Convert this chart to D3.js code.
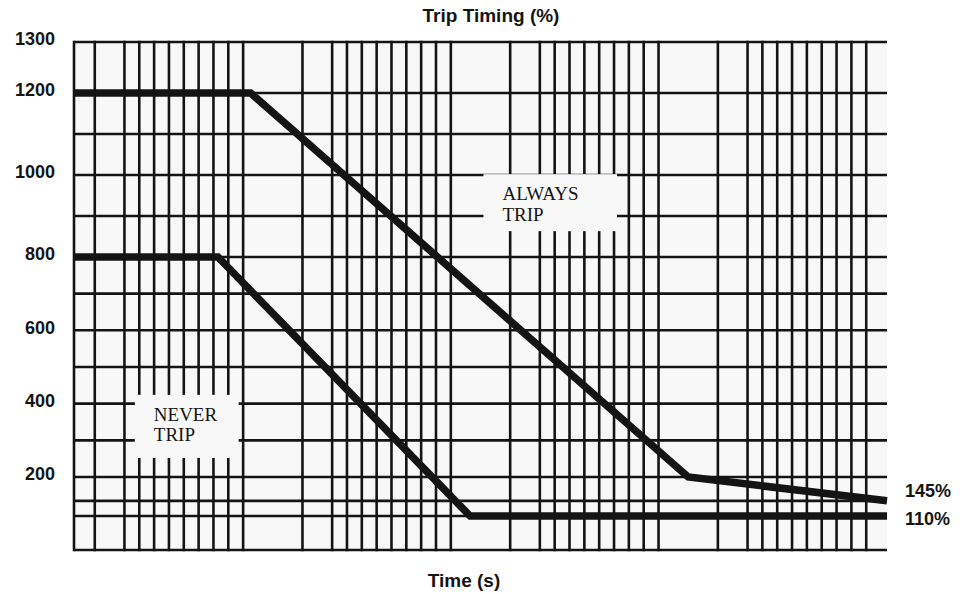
<!DOCTYPE html>
<html>
<head>
<meta charset="utf-8">
<style>
  body { margin: 0; background: #fff; }
  svg { display: block; }
</style>
<script src="https://cdn.jsdelivr.net/npm/d3@7"></script>
</head>
<body>
<div id="chart"></div>
<script>
// time axis is drawn in chart divisions, the original prints no time values
var timeDomain = [-1.4, 53.4];
var cycleStarts = [0, 14, 28, 42];
var cycleSteps = [0, 2, 3, 4, 5, 6, 7, 8, 9, 10];

var pctGrid = [1300, 1200, 1100, 1000, 900, 800, 700, 600, 500, 400, 300, 200, 145, 110, 0];
var pctLabels = [1300, 1200, 1000, 800, 600, 400, 200];

var alwaysTime = [-1.4, 10.5, 40.0, 53.4];
var alwaysPct = [1200, 1200, 200, 145];
var neverTime = [-1.4, 8.3, 25.3, 53.4];
var neverPct = [800, 800, 110, 110];

var endLabels = ['145%', '110%'];
var endValues = [145, 110];

var zoneNames = [['ALWAYS', 'TRIP'], ['NEVER', 'TRIP']];
var zoneTime = [[26.2, 35.2], [2.7, 9.7]];
var zonePct = [[1002, 863], [424, 252]];

(function(){

  var width = 960;
  var height = 594;
  var margin = { top: 42, right: 73, bottom: 44, left: 74 };
  var w = width - margin.left - margin.right;
  var h = height - margin.top - margin.bottom;
  var ink = '#141414';
  var sans = '"Liberation Sans", Arial, sans-serif';
  var serif = '"Liberation Serif", "Times New Roman", serif';

  var x = d3.scaleLinear().domain(timeDomain).range([0, w]);

  // the printed percent axis is not evenly spaced
  var y = d3.scaleLinear()
    .domain([0, 110, 200, 800, 1200, 1300])
    .range([h, h * 0.9331, h * 0.8563, h * 0.4232, h * 0.1004, 0]);

  var svg = d3.select('#chart')
    .append('svg')
    .attr('width', width)
    .attr('height', height);

  var g = svg.append('g')
    .attr('transform', 'translate(' + margin.left + ',' + margin.top + ')');

  g.append('rect')
    .attr('width', w)
    .attr('height', h)
    .attr('fill', '#f8f8f8');

  // horizontal grid
  g.selectAll('line.h')
    .data(pctGrid)
    .enter()
    .append('line')
    .attr('class', 'h')
    .attr('x1', 0)
    .attr('x2', w)
    .attr('y1', function(d) { return y(d); })
    .attr('y2', function(d) { return y(d); })
    .attr('stroke', ink)
    .attr('stroke-width', 2.6);

  // vertical grid, one block of lines per cycle
  var timeGrid = [timeDomain[0]];
  cycleStarts.forEach(function(c) {
    cycleSteps.forEach(function(s) { timeGrid.push(c + s); });
  });

  g.selectAll('line.v')
    .data(timeGrid)
    .enter()
    .append('line')
    .attr('class', 'v')
    .attr('x1', function(d) { return x(d); })
    .attr('x2', function(d) { return x(d); })
    .attr('y1', -1.3)
    .attr('y2', h + 1.3)
    .attr('stroke', ink)
    .attr('stroke-width', 2.6);

  // zone label boxes sit over the grid
  var zones = g.selectAll('g.zone')
    .data(zoneNames)
    .enter()
    .append('g')
    .attr('class', 'zone');

  zones.append('rect')
    .attr('x', function(d, i) { return x(zoneTime[i][0]); })
    .attr('y', function(d, i) { return y(zonePct[i][0]); })
    .attr('width', function(d, i) { return x(zoneTime[i][1]) - x(zoneTime[i][0]); })
    .attr('height', function(d, i) { return y(zonePct[i][1]) - y(zonePct[i][0]); })
    .attr('fill', '#f8f8f8');

  zones.each(function(d, i) {
    var bx = x(zoneTime[i][0]);
    var by = y(zonePct[i][0]);
    d3.select(this).selectAll('text')
      .data(d)
      .enter()
      .append('text')
      .text(function(t) { return t; })
      .attr('x', bx + 19)
      .attr('y', function(t, j) { return by + 26 + j * 20.5; })
      .attr('fill', ink)
      .style('font-family', serif)
      .style('font-size', '19px');
  });

  // trip curves
  var line = d3.line()
    .x(function(d) { return x(d[0]); })
    .y(function(d) { return y(d[1]); });

  var curves = [d3.zip(alwaysTime, alwaysPct), d3.zip(neverTime, neverPct)];

  g.selectAll('path.curve')
    .data(curves)
    .enter()
    .append('path')
    .attr('class', 'curve')
    .attr('d', line)
    .attr('fill', 'none')
    .attr('stroke', ink)
    .attr('stroke-width', 7.5)
    .attr('stroke-linejoin', 'miter');

  // percent labels
  g.selectAll('text.ylab')
    .data(pctLabels)
    .enter()
    .append('text')
    .attr('class', 'ylab')
    .text(function(d) { return d; })
    .attr('x', -19)
    .attr('y', function(d) { return y(d) - 3; })
    .attr('dy', '0.35em')
    .attr('text-anchor', 'end')
    .attr('fill', ink)
    .style('font-family', sans)
    .style('font-weight', 'bold')
    .style('font-size', '18px');

  g.selectAll('text.end')
    .data(endLabels)
    .enter()
    .append('text')
    .attr('class', 'end')
    .text(function(d) { return d; })
    .attr('x', w + 18)
    .attr('y', function(d, i) { return y(endValues[i]) + (i === 0 ? -10 : 3); })
    .attr('dy', '0.35em')
    .attr('fill', ink)
    .style('font-family', sans)
    .style('font-weight', 'bold')
    .style('font-size', '18px');

  svg.append('text')
    .text('Trip Timing (%)')
    .attr('x', 491)
    .attr('y', 22)
    .attr('text-anchor', 'middle')
    .attr('fill', ink)
    .style('font-family', sans)
    .style('font-weight', 'bold')
    .style('font-size', '19px');

  svg.append('text')
    .text('Time (s)')
    .attr('x', 464)
    .attr('y', 587)
    .attr('text-anchor', 'middle')
    .attr('fill', ink)
    .style('font-family', sans)
    .style('font-weight', 'bold')
    .style('font-size', '19px');

})();
</script>
</body>
</html>
